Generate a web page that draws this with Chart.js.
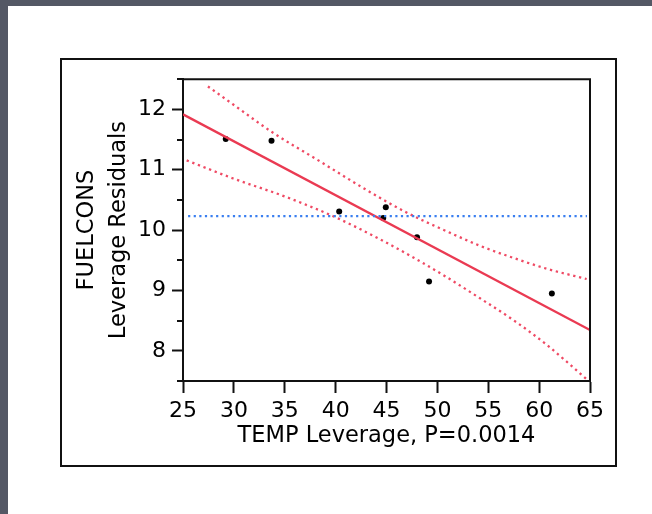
<!DOCTYPE html>
<html>
<head>
<meta charset="utf-8">
<script src="https://cdn.jsdelivr.net/npm/chart.js@4.4.1/dist/chart.umd.min.js"></script>
<style>
  html, body { margin: 0; padding: 0; }
  body { width: 652px; height: 514px; background: #545865; position: relative; overflow: hidden; }
  #sheet { position: absolute; left: 8px; top: 6px; right: 0; bottom: 0; background: #fff; }
  #frame { position: absolute; left: 60px; top: 58px; width: 553px; height: 405px; border: 2px solid #111; background: #fff; }
  #frame canvas { position: absolute; left: 0; top: 0; }
</style>
</head>
<body>
<div id="sheet"></div>
<div id="frame"><canvas id="leverageChart" width="553" height="405"></canvas></div>
<script>
// leverage residual points
var tempLev = [29.2, 33.7, 40.35, 44.93, 44.68, 48.0, 49.18, 61.25];
var fuelLev = [11.51, 11.48, 10.31, 10.38, 10.20, 9.88, 9.15, 8.95];

// fitted line end points
var fitX = [25, 65];
var fitY = [11.917, 8.345];

// mean reference line
var meanX = [25.5, 64.7];
var meanY = [10.23, 10.23];

// confidence curves
var upperX = [27.45, 29.94, 33.78, 38.3, 42.89, 46.98, 50.92, 54.19, 57.46, 60.74, 64.67];
var upperY = [12.38, 12.08, 11.62, 11.155, 10.68, 10.29, 9.98, 9.74, 9.54, 9.36, 9.19];
var lowerX = [25.36, 29.94, 35.02, 39.77, 44.36, 47.63, 50.92, 54.19, 57.46, 60.74, 64.67];
var lowerY = [11.155, 10.855, 10.556, 10.229, 9.848, 9.547, 9.22, 8.87, 8.51, 8.10, 7.53];

var xTicks = [25, 30, 35, 40, 45, 50, 55, 60, 65];
var yTicks = [8, 9, 10, 11, 12];

function pairs(xs, ys) {
  var out = [];
  for (var i = 0; i < xs.length; i++) out.push({x: xs[i], y: ys[i]});
  return out;
}

function isMajor(v) {
  return yTicks.some(function(t) { return Math.abs(t - v) < 1e-6; });
}

// top/right frame of the plot and the short minor ticks on y
var frameBox = {
  id: 'frameBox',
  afterDraw: function(chart) {
    var ctx = chart.ctx, a = chart.chartArea, ys = chart.scales.y;
    ctx.save();
    ctx.strokeStyle = '#111';
    ctx.lineWidth = 2;
    ctx.beginPath();
    ctx.moveTo(a.left, a.top);
    ctx.lineTo(a.right, a.top);
    ctx.lineTo(a.right, a.bottom);
    ctx.stroke();
    ys.ticks.forEach(function(t) {
      if (isMajor(t.value)) return;
      var py = Math.round(ys.getPixelForValue(t.value));
      ctx.beginPath();
      ctx.moveTo(a.left - 6, py);
      ctx.lineTo(a.left, py);
      ctx.stroke();
    });
    ctx.restore();
  }
};

var red = '#ea3a52';
var dotRed = '#ef4a64';

new Chart(document.getElementById('leverageChart'), {
  type: 'scatter',
  data: {
    datasets: [
      { data: pairs(meanX, meanY), showLine: true, borderColor: '#3a7ff0', borderWidth: 2.2,
        borderDash: [2.2, 3.4], pointRadius: 0, fill: false },
      { data: pairs(upperX, upperY), showLine: true, borderColor: dotRed, borderWidth: 2.3,
        borderDash: [2.3, 3.7], pointRadius: 0, cubicInterpolationMode: 'monotone', fill: false },
      { data: pairs(lowerX, lowerY), showLine: true, borderColor: dotRed, borderWidth: 2.3,
        borderDash: [2.3, 3.7], pointRadius: 0, cubicInterpolationMode: 'monotone', fill: false },
      { data: pairs(fitX, fitY), showLine: true, borderColor: red, borderWidth: 2.3,
        pointRadius: 0, fill: false },
      { data: pairs(tempLev, fuelLev), showLine: false, pointRadius: 3,
        pointBackgroundColor: '#000', pointBorderWidth: 0 }
    ]
  },
  options: {
    responsive: false,
    animation: false,
    events: [],
    layout: { padding: { left: 0, right: 25, top: 16, bottom: 0 } },
    plugins: { legend: { display: false }, tooltip: { enabled: false } },
    scales: {
      x: {
        type: 'linear', min: 25, max: 65,
        afterFit: function(s) { s.height = 84; },
        afterBuildTicks: function(s) { s.ticks = xTicks.map(function(v) { return {value: v}; }); },
        ticks: { autoSkip: false, maxRotation: 0, padding: 5, color: '#000',
                 font: { family: 'DejaVu Sans', size: 22 } },
        grid: { drawOnChartArea: false, tickLength: 12, tickWidth: 2, tickColor: '#111' },
        border: { display: true, color: '#111', width: 2 },
        title: { display: true, text: 'TEMP Leverage, P=0.0014', color: '#000',
                 font: { family: 'DejaVu Sans', size: 22.5 }, padding: { top: 0, bottom: 15 } }
      },
      y: {
        type: 'linear', min: 7.5, max: 12.5,
        afterFit: function(s) { s.width = 121; },
        ticks: { stepSize: 0.5, padding: 6, color: '#000',
                 font: { family: 'DejaVu Sans', size: 22 },
                 callback: function(v) { return isMajor(v) ? String(Math.round(v)) : ''; } },
        grid: { drawOnChartArea: false, tickLength: 11, tickWidth: 2,
                tickColor: function(c) { return c.tick && isMajor(c.tick.value) ? '#111' : 'rgba(0,0,0,0)'; } },
        border: { display: true, color: '#111', width: 2 },
        title: { display: true, text: ['FUELCONS', 'Leverage Residuals'], color: '#000',
                 font: { family: 'DejaVu Sans', size: 22.5, lineHeight: 1.42 }, padding: { top: 9, bottom: 0 } }
      }
    }
  },
  plugins: [frameBox]
});
</script>
</body>
</html>
